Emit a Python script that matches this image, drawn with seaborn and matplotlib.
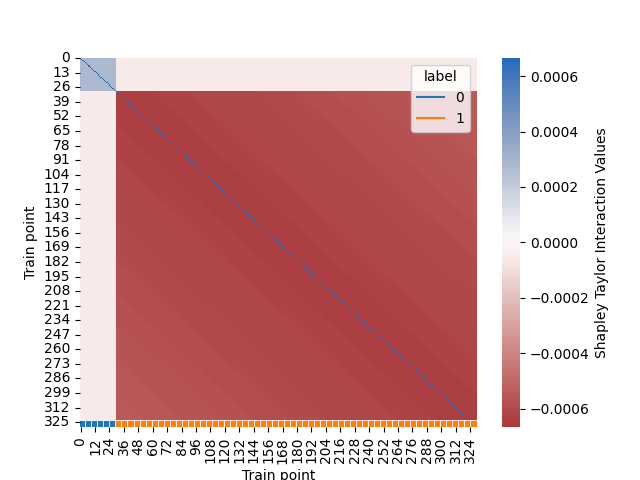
import numpy as np
import pandas as pd
import matplotlib
matplotlib.use("Agg")
import matplotlib.pyplot as plt
import seaborn as sns
from matplotlib.lines import Line2D

# ---------------------------------------------------------------
# Values
# ---------------------------------------------------------------
label_counts = [30, 300]          # train points with label 0 / label 1
label_names = [0, 1]

# Shapley Taylor interaction levels per block
val_diag = 0.00066                # self-interaction on the diagonal
val_block0 = 0.00028              # label 0 x label 0
val_cross = -0.00006              # label 0 x label 1
# label 1 x label 1 depends on distance from the diagonal
band_edges = [0, 30, 60, 90, 120, 150, 180, 210, 240, 270]
band_values = [-0.00064, -0.00063, -0.00062, -0.00061, -0.00060,
               -0.00059, -0.00058, -0.00057, -0.00056, -0.00055]

vlim = 0.000667

# ---------------------------------------------------------------
# Build the interaction matrix
# ---------------------------------------------------------------
labels = np.repeat(label_names, label_counts)
n = len(labels)
ii, jj = np.indices((n, n))

mat = np.full((n, n), val_cross)
same0 = (labels[ii] == 0) & (labels[jj] == 0)
same1 = (labels[ii] == 1) & (labels[jj] == 1)
mat[same0] = val_block0
band_idx = np.digitize(np.abs(ii - jj), band_edges) - 1
mat[same1] = np.array(band_values)[band_idx[same1]]
np.fill_diagonal(mat, val_diag)

df = pd.DataFrame(mat)

# ---------------------------------------------------------------
# Plot
# ---------------------------------------------------------------
fig = plt.figure(figsize=(6.4, 4.8), dpi=100)
ax = sns.heatmap(df, cmap="vlag_r", center=0, vmin=-vlim, vmax=vlim,
                 cbar_kws={"label": "Shapley Taylor Interaction Values"})

# label strip along the bottom
step = 5
strip = pd.DataFrame({"x": np.arange(n)[::step] + step / 2,
                      "y": n - 3.3,
                      "label": labels[::step]})
sns.scatterplot(data=strip, x="x", y="y", hue="label", palette=["C0", "C1"],
                marker="s", s=27, linewidth=0.6, edgecolor="white",
                legend=False, ax=ax)

handles = [Line2D([], [], color="C0", label="0"),
           Line2D([], [], color="C1", label="1")]
ax.legend(handles=handles, title="label", loc="upper right")

ax.set_xlabel("Train point")
ax.set_ylabel("Train point")

fig.savefig("out.png", dpi=100)
